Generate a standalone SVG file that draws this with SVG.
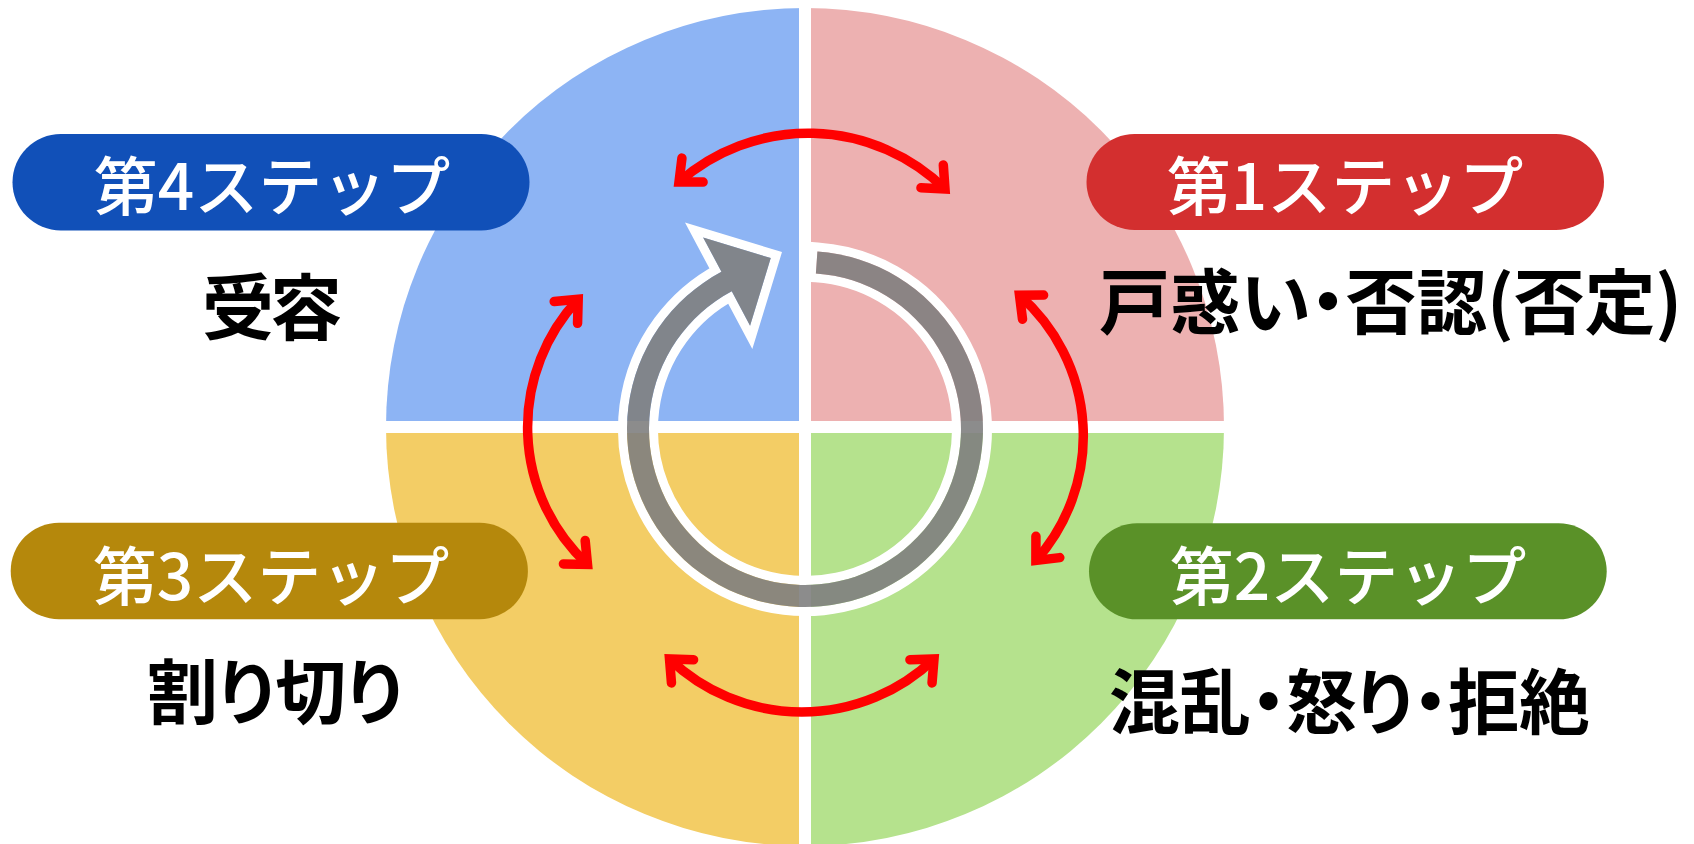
<svg xmlns="http://www.w3.org/2000/svg" xmlns:xlink="http://www.w3.org/1999/xlink" width="1694" height="844" viewBox="0 0 1694 844">
<style>
.pill-text{font-family:"Noto Sans CJK JP","Noto Sans",sans-serif;font-size:64px;fill:#FFFFFF;font-weight:500;text-anchor:middle}
.big-text{font-family:"Noto Sans CJK JP","Noto Sans",sans-serif;font-size:71px;fill:#000000;font-weight:700;font-feature-settings:"palt" 1}
.red-arc{fill:none;stroke:#FF0000;stroke-width:9.5;marker-start:url(#ah);marker-end:url(#ah)}
</style>
<defs>
<marker id="ah" markerUnits="userSpaceOnUse" markerWidth="60" markerHeight="60" viewBox="-30 -30 60 60" refX="0" refY="0" orient="auto-start-reverse" overflow="visible">
<path d="M-18,-16 L0,0 L-18,16" fill="none" stroke="#FF0000" stroke-width="9.5" stroke-linecap="round" stroke-linejoin="miter"/>
</marker>
<g id="bg">
<path d="M805,427 L805,8 A419,419 0 0 0 386,427 Z" fill="#8DB4F4"/>
<path d="M805,427 L805,8 A419,419 0 0 1 1224,427 Z" fill="#EDB1B1"/>
<path d="M805,427 L386,427 A419,419 0 0 0 805,846 Z" fill="#F3CD65"/>
<path d="M805,427 L1224,427 A419,419 0 0 1 805,846 Z" fill="#B5E28D"/>
<rect x="799" y="0" width="12" height="844" fill="#FFFFFF"/>
<rect x="380" y="421" width="850" height="12" fill="#FFFFFF"/>
</g>
<path id="ringShape" d="M 817.42 251.43 A 178 178 0 1 1 721.43 271.83 L 703.13 237.40 L 770.75 258.08 L 750.07 325.69 L 731.76 291.26 A 156 156 0 1 0 815.88 273.38 Z"/>
<clipPath id="ringClip"><use xlink:href="#ringShape"/></clipPath>
</defs>
<rect width="1694" height="844" fill="#FFFFFF"/>
<g id="circle-quadrants">
<use xlink:href="#bg"/>
</g>
<g id="cycle-arrow">
<use xlink:href="#ringShape" fill="none" stroke="#FFFFFF" stroke-width="18" stroke-linejoin="miter" stroke-miterlimit="10"/>
<use xlink:href="#bg" clip-path="url(#ringClip)"/>
<use xlink:href="#ringShape" fill="#808080" fill-opacity="0.9"/>
</g>
<g id="connectors">
<path class="red-arc" d="M 679 182 A 195.6 195.6 0 0 1 945 189"/>
<path class="red-arc" d="M 1019.5 295.3 A 187 187 0 0 1 1035.9 560.4"/>
<path class="red-arc" d="M 669.5 659 A 191.5 191.5 0 0 0 934 659"/>
<path class="red-arc" d="M 578.2 299.3 A 187 187 0 0 0 587.5 564.4"/>
</g>
<g id="step4">
<rect x="12.5" y="134" width="517" height="96.5" rx="48.25" fill="#1150B8"/>
<text class="pill-text" x="272" y="210">第4ステップ</text>
<text class="big-text" x="202" y="334" style="font-size:72px" textLength="140" lengthAdjust="spacing">受容</text>
</g>
<g id="step1">
<rect x="1086.5" y="134" width="517.5" height="96" rx="48" fill="#D32F2F"/>
<text class="pill-text" x="1345" y="210">第1ステップ</text>
<text class="big-text" x="1099" y="328" textLength="583" lengthAdjust="spacing">戸惑い・否認(否定)</text>
</g>
<g id="step3">
<rect x="10.7" y="522.7" width="517.2" height="96.6" rx="48.3" fill="#B5880C"/>
<text class="pill-text" x="271" y="600">第3ステップ</text>
<text class="big-text" x="147" y="718" textLength="256" lengthAdjust="spacing">割り切り</text>
</g>
<g id="step2">
<rect x="1089" y="523.3" width="517.7" height="96" rx="48" fill="#5A9128"/>
<text class="pill-text" x="1348" y="599.5">第2ステップ</text>
<text class="big-text" x="1109" y="728" textLength="481" lengthAdjust="spacing">混乱・怒り・拒絶</text>
</g>
</svg>
